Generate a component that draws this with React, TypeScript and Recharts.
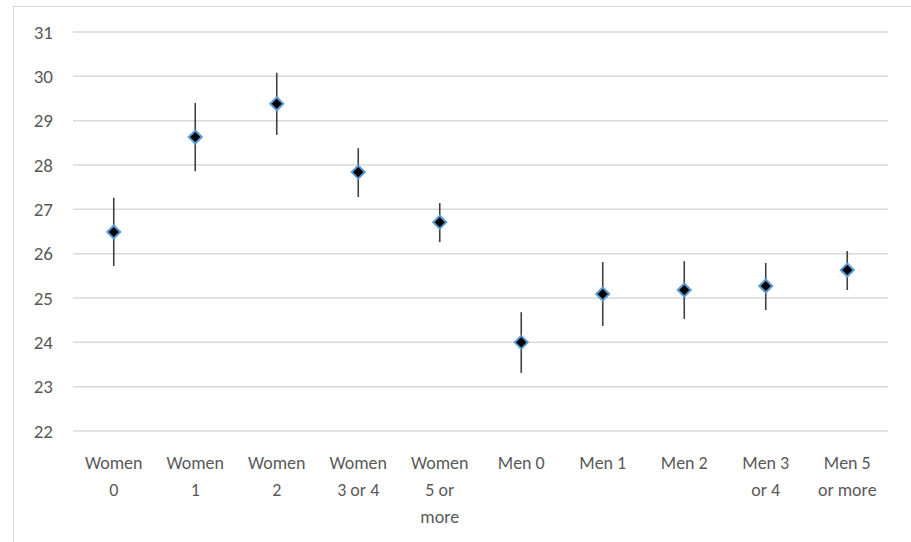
import React from 'react';
import { ComposedChart, Scatter, ErrorBar, XAxis, YAxis, CartesianGrid } from 'recharts';

const categories = ['Women 0', 'Women 1', 'Women 2', 'Women 3 or 4', 'Women 5 or more', 'Men 0', 'Men 1', 'Men 2', 'Men 3 or 4', 'Men 5 or more'];
// how each category label wraps under the axis
const labelLines = [
  ['Women', '0'],
  ['Women', '1'],
  ['Women', '2'],
  ['Women', '3 or 4'],
  ['Women', '5 or', 'more'],
  ['Men 0'],
  ['Men 1'],
  ['Men 2'],
  ['Men 3', 'or 4'],
  ['Men 5', 'or more'],
];
const means = [26.49, 28.63, 29.38, 27.84, 26.71, 24.0, 25.09, 25.18, 25.27, 25.63];
const lows = [25.72, 27.86, 28.68, 27.28, 26.26, 23.31, 24.37, 24.53, 24.73, 25.18];
const highs = [27.26, 29.4, 30.08, 28.38, 27.14, 24.68, 25.81, 25.83, 25.79, 26.06];
const yTicks = [22, 23, 24, 25, 26, 27, 28, 29, 30, 31];

const data = categories.map((name, i) => ({
  name,
  value: means[i],
  err: [means[i] - lows[i], highs[i] - means[i]],
}));

const font = 'Carlito, Lato, "Open Sans", sans-serif';

const Diamond = (props: any) => {
  const { cx, cy } = props;
  if (cx == null || cy == null) return null;
  const r = 6.5;
  return (
    <polygon
      points={`${cx},${cy - r} ${cx + r},${cy} ${cx},${cy + r} ${cx - r},${cy}`}
      fill="#000000"
      stroke="#5B9BD5"
      strokeWidth={2}
    />
  );
};

const CategoryTick = (props: any) => {
  const { x, y, index } = props;
  const lines = labelLines[index] || [];
  return (
    <text x={x} y={y} textAnchor="middle" fill="#595959" fontSize={18} fontFamily={font}>
      {lines.map((l, i) => (
        <tspan key={i} x={x} dy={i === 0 ? 36 : 27}>
          {l}
        </tspan>
      ))}
    </text>
  );
};

export default function App() {
  return (
    <div style={{ position: 'fixed', left: 0, top: 0, width: 911, height: 542, background: '#fff', overflow: 'hidden' }}>
      <div
        style={{
          position: 'absolute',
          left: 13,
          top: 6,
          width: 920,
          height: 560,
          border: '1.5px solid #d9d9d9',
        }}
      />
      <div style={{ position: 'absolute', left: 0, top: 0 }}>
        <ComposedChart width={911} height={542} data={data} margin={{ top: 32, right: 23, bottom: 11, left: 0 }}>
          <CartesianGrid vertical={false} stroke="#d9d9d9" strokeWidth={1.5} />
          <XAxis
            dataKey="name"
            type="category"
            axisLine={false}
            tickLine={false}
            tickSize={0}
            interval={0}
            height={100}
            padding={{ left: 40.75, right: 40.75 }}
            tick={<CategoryTick />}
          />
          <YAxis
            type="number"
            domain={[22, 31]}
            ticks={yTicks}
            allowDataOverflow
            axisLine={false}
            tickLine={false}
            tickSize={0}
            tickMargin={20}
            width={73}
            tick={{ fill: '#595959', fontSize: 19, fontFamily: font }}
          />
          <Scatter dataKey="value" shape={<Diamond />} isAnimationActive={false}>
            <ErrorBar dataKey="err" direction="y" width={0} stroke="#404040" strokeWidth={1.6} />
          </Scatter>
        </ComposedChart>
      </div>
    </div>
  );
}
